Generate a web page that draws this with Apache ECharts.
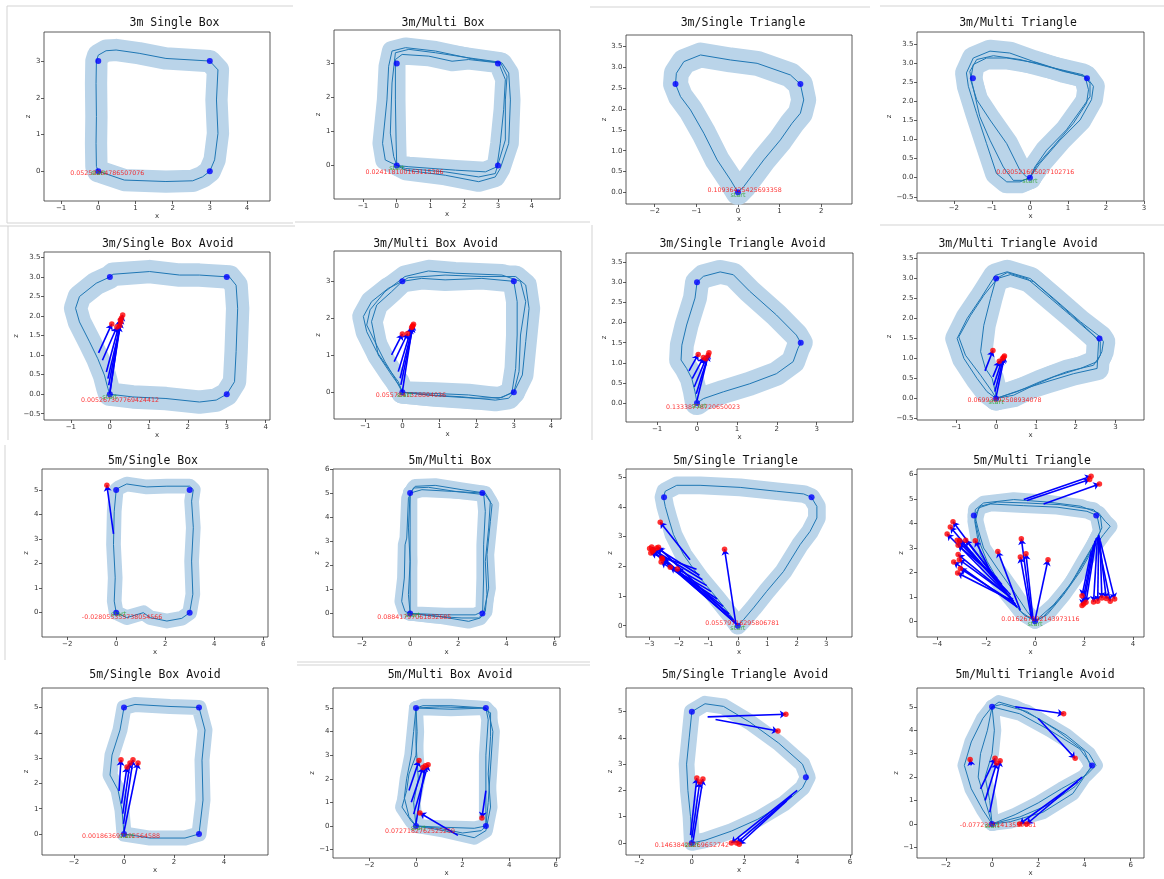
<!DOCTYPE html>
<html><head><meta charset="utf-8">
<script src="https://cdn.jsdelivr.net/npm/echarts@6/dist/echarts.min.js"></script>
<style>html,body{margin:0;padding:0;background:#fff}#c{width:1164px;height:879px}</style>
</head><body><div id="c"></div>
<script>
// ---------------- DATA ----------------
const titles = ['3m Single Box','3m/Multi Box','3m/Single Triangle','3m/Multi Triangle',
 '3m/Single Box Avoid','3m/Multi Box Avoid','3m/Single Triangle Avoid','3m/Multi Triangle Avoid',
 '5m/Single Box','5m/Multi Box','5m/Single Triangle','5m/Multi Triangle',
 '5m/Single Box Avoid','5m/Multi Box Avoid','5m/Single Triangle Avoid','5m/Multi Triangle Avoid'];

// axis extents [xmin,xmax,zmin,zmax]
const axisRanges = [
 [-1.46,4.62,-0.81,3.79],[-1.86,4.84,-0.99,3.99],[-2.69,2.74,-0.28,3.78],[-2.97,3.0,-0.61,3.81],
 [-1.69,4.11,-0.66,3.64],[-1.84,4.27,-0.72,3.82],[-1.78,3.91,-0.47,3.73],[-1.99,3.72,-0.54,3.64],
 [-3.03,6.2,-0.99,5.85],[-3.2,6.22,-0.98,6.0],[-3.79,3.87,-0.38,5.28],[-4.82,4.45,-0.64,6.23],
 [-3.28,5.76,-0.83,5.77],[-3.56,6.18,-1.36,5.85],[-2.5,6.08,-0.46,5.9],[-3.25,6.58,-1.45,5.8]];

const xTicks = [
 ['−1','0','1','2','3','4'],['−1','0','1','2','3','4'],['−2','−1','0','1','2'],['−2','−1','0','1','2','3'],
 ['−1','0','1','2','3','4'],['−1','0','1','2','3','4'],['−1','0','1','2','3'],['−1','0','1','2','3'],
 ['−2','0','2','4','6'],['−2','0','2','4','6'],['−3','−2','−1','0','1','2','3'],['−4','−2','0','2','4'],
 ['−2','0','2','4'],['−2','0','2','4','6'],['−2','0','2','4','6'],['−2','0','2','4','6']];
const zTicks = [
 ['0','1','2','3'],['0','1','2','3'],['0.0','0.5','1.0','1.5','2.0','2.5','3.0','3.5'],['−0.5','0.0','0.5','1.0','1.5','2.0','2.5','3.0','3.5'],
 ['−0.5','0.0','0.5','1.0','1.5','2.0','2.5','3.0','3.5'],['0','1','2','3'],['0.0','0.5','1.0','1.5','2.0','2.5','3.0','3.5'],['−0.5','0.0','0.5','1.0','1.5','2.0','2.5','3.0','3.5'],
 ['0','1','2','3','4','5'],['0','1','2','3','4','5','6'],['0','1','2','3','4','5'],['0','1','2','3','4','5','6'],
 ['0','1','2','3','4','5'],['−1','0','1','2','3','4','5'],['0','1','2','3','4','5'],['−1','0','1','2','3','4','5']];

// waypoints (blue dots)
const boxCorners3 = [[0,0],[3,0],[3,3],[0,3]];
const triCorners3 = [[0,0],[-1.5,2.6],[1.5,2.6]];
const triAvoidCorners3 = [[0,0],[0,3],[2.6,1.5]];
const boxCorners5 = [[0,0],[3,0],[3,5],[0,5]];
const triCorners5 = [[0,0],[-2.5,4.33],[2.5,4.33]];
const triAvoidCorners5 = [[0,0],[0,5],[4.33,2.5]];

// trajectories
const p1_paths = [[[0,0],[0.7,-0.24],[1.82,-0.28],[2.54,-0.26],[2.81,-0.15],[3,0],[3.13,0.31],[3.22,1.03],[3.18,1.94],[3.22,2.76],[3,3],[1.82,3.07],[1.1,3.21],[0.48,3.3],[0.21,3.28],[0,3.16],[-0.05,3],[-0.06,2.39],[-0.05,1.49],[-0.06,0.76],[-0.05,0.13],[0,0]]];
const p2_paths = [
 [[0,0],[0.26,-0.14],[1.44,-0.29],[2.43,-0.48],[2.92,-0.34],[3.07,-0.09],[3.32,0.65],[3.37,1.93],[3.32,2.72],[3.12,3.02],[2.33,3.12],[1.15,3.37],[0.26,3.47],[-0.14,3.37],[-0.24,2.92],[-0.29,1.93],[-0.42,0.65],[-0.34,0.16],[0,0]],
 [[0,0],[0.26,-0.09],[1.44,-0.19],[2.43,-0.34],[2.92,-0.24],[3.22,0.75],[3.22,1.93],[3.27,2.63],[3.07,3.04],[2.13,3.17],[1.15,3.32],[0.36,3.42],[-0.04,3.32],[-0.14,2.43],[-0.19,0.95],[-0.09,0.26],[0,0]],
 [[0,0],[0.36,-0.04],[1.74,-0.14],[2.63,-0.19],[2.97,-0.04],[3.07,0.65],[3.17,1.64],[3.22,2.53],[3.02,3.02],[2.13,3.12],[1.64,3.07],[0.95,3.22],[0.16,3.27],[-0.04,3.12],[-0.04,1.93],[-0.02,0.75],[0,0]]];
const p3_paths = [[[0,0],[-0.18,0.3],[-0.5,0.78],[-0.82,1.42],[-1.14,1.98],[-1.38,2.3],[-1.5,2.6],[-1.48,2.86],[-1.3,3.14],[-0.9,3.3],[-0.18,3.18],[0.46,3.1],[1.26,2.82],[1.5,2.6],[1.58,2.22],[1.5,1.9],[1.3,1.66],[1.02,1.26],[0.62,0.78],[0.38,0.46],[0.14,0.14],[0,0]]];
const p4_paths = [
 [[0,0],[-0.26,-0.11],[-0.61,-0.11],[-0.88,0.11],[-1.14,0.89],[-1.4,1.68],[-1.62,2.39],[-1.67,2.74],[-1.49,3.13],[-1.05,3.31],[-0.53,3.26],[0.09,3.04],[0.79,2.82],[1.49,2.63],[1.67,2.39],[1.62,2.04],[1.32,1.51],[0.79,0.98],[0.26,0.37],[0.04,0.06],[0,0]],
 [[0,0],[-0.18,-0.07],[-0.44,-0.07],[-0.7,0.28],[-1.05,0.98],[-1.32,1.6],[-1.54,2.56],[-1.58,2.78],[-1.4,3.09],[-0.96,3.19],[-0.26,3.09],[0.44,2.91],[1.4,2.69],[1.58,2.47],[1.58,2.12],[1.4,1.86],[0.96,1.25],[0.44,0.72],[0.13,0.28],[0,0]],
 [[0,0],[-0.09,0.02],[-0.26,0.19],[-0.61,0.89],[-1.05,1.51],[-1.4,2.04],[-1.56,2.56],[-1.49,2.96],[-1.14,3.13],[-0.61,3.13],[0.18,3.0],[0.88,2.78],[1.45,2.65],[1.54,2.3],[1.49,1.95],[1.14,1.42],[0.61,0.81],[0.18,0.32],[0,0]]];
const p5_paths = [[[0,0],[0.59,-0.07],[1.44,-0.11],[2.3,-0.2],[2.73,-0.15],[3,0],[3.2,0.32],[3.24,1.09],[3.28,2.2],[3.24,2.79],[3.07,3.0],[2.3,3.05],[1.79,3.05],[1.02,3.14],[0.08,3.07],[0,3],[-0.35,2.84],[-0.78,2.5],[-0.88,2.2],[-0.78,1.85],[-0.52,1.34],[-0.31,0.91],[-0.14,0.49],[-0.05,0.15],[0,0]]];
const p6_paths = [
 [[0,0],[0.7,-0.07],[1.6,-0.12],[2.5,-0.21],[2.86,-0.16],[3,0],[3.23,0.47],[3.32,1.37],[3.41,2.27],[3.32,2.9],[3.05,3.13],[2.14,3.13],[1.15,3.17],[0.16,3.1],[0,3],[-0.38,2.81],[-0.83,2.45],[-1.05,2.05],[-0.96,1.64],[-0.69,1.1],[-0.38,0.65],[-0.11,0.29],[0,0]],
 [[0,0],[0.88,-0.03],[1.78,-0.07],[2.59,-0.16],[3,0],[3.14,0.56],[3.18,1.55],[3.32,2.45],[3.18,3.0],[2.68,3.17],[1.42,3.22],[0.7,3.28],[0.07,3.13],[-0.47,2.72],[-0.87,2.23],[-0.96,1.82],[-0.74,1.37],[-0.47,0.83],[-0.2,0.38],[0,0]],
 [[0,0],[0.88,-0.09],[1.96,-0.16],[2.68,-0.14],[2.95,0.0],[3.05,0.65],[3.09,1.55],[3.09,2.45],[3,3],[2.14,3.08],[1.15,3.04],[0.52,3.08],[0,3],[-0.29,2.72],[-0.69,2.36],[-0.83,1.91],[-0.65,1.01],[-0.29,0.47],[-0.06,0.15],[0,0]]];
const p7_paths = [[[0,0],[0.16,0.11],[0.66,0.28],[1.32,0.48],[1.99,0.73],[2.41,1.03],[2.53,1.36],[2.6,1.5],[2.49,1.69],[1.99,2.19],[1.32,2.78],[0.91,3.19],[0.58,3.26],[0.16,3.15],[0,3],[-0.05,2.61],[-0.26,1.94],[-0.38,1.44],[-0.4,1.07],[-0.26,0.86],[-0.13,0.61],[-0.05,0.28],[0,0]]];
const p8_paths = [
 [[0,0],[0.44,0.08],[0.95,0.33],[1.45,0.54],[2.12,0.75],[2.54,0.92],[2.66,1.17],[2.7,1.42],[2.62,1.54],[2.12,1.92],[1.45,2.5],[0.86,3.0],[0.28,3.17],[-0.02,3.08],[-0.39,2.5],[-0.73,2.0],[-0.98,1.5],[-0.81,1.0],[-0.48,0.5],[-0.23,0.17],[0,0]],
 [[0,0],[0.53,0.17],[1.11,0.42],[1.78,0.67],[2.45,0.83],[2.62,1.08],[2.62,1.42],[2.28,1.75],[1.62,2.33],[0.95,2.92],[0.36,3.1],[0.03,3.0],[-0.31,2.58],[-0.64,2.08],[-0.94,1.54],[-0.77,1.08],[-0.39,0.58],[-0.1,0.17],[0,0]],
 [[0,0],[0.61,0.21],[1.28,0.42],[1.95,0.62],[2.54,0.75],[2.58,1.46],[2.45,1.58],[1.87,2.08],[1.28,2.58],[0.78,3.0],[0.28,3.15],[0,3],[-0.14,2.5],[-0.31,1.83],[-0.39,1.17],[-0.27,0.75],[-0.1,0.5],[-0.02,0.17],[0,0]]];
const p9_paths = [[[0,0],[0.43,-0.2],[1.11,0],[1.39,-0.2],[2.07,-0.34],[2.68,-0.23],[3,0],[3.13,0.75],[3.08,2.1],[3.15,3.46],[3.08,4.54],[3.15,5.01],[3,5.15],[2.07,5.15],[1.25,5.12],[0.43,5.24],[0.1,5.08],[0,5],[-0.08,4.13],[-0.11,2.78],[-0.04,1.42],[-0.08,0.47],[0,0]]];
const p10_paths = [
 [[0,0],[1.04,-0.12],[2.15,-0.19],[2.84,-0.19],[3.12,0.08],[3.19,0.78],[3.12,2.16],[3.26,3.55],[3.33,4.65],[3.12,5.0],[2.15,5.14],[1.04,5.32],[0.21,5.28],[0,5],[-0.07,3.55],[0,2.16],[-0.07,0.78],[0,0]],
 [[0,0],[1.18,-0.12],[2.43,-0.33],[2.91,-0.19],[3.05,0],[3.26,1.05],[3.19,2.44],[3.33,3.82],[3.4,4.52],[3.12,4.93],[1.87,5.07],[0.76,5.24],[0.14,5.21],[-0.07,4.79],[-0.14,3.13],[-0.21,2.85],[-0.24,1.47],[-0.35,0.5],[-0.21,0.08],[0,0]],
 [[0,0],[1.46,-0.06],[2.7,-0.06],[3.01,0.08],[3.05,1.47],[3.05,2.85],[3.12,4.24],[3.05,5.0],[1.73,5.07],[0.49,5.14],[0,5],[0,3.55],[0,1.47],[0,0]]];
const p11_paths = [[[0,0],[-0.26,0.37],[-0.71,0.93],[-1.28,1.61],[-1.84,2.39],[-2.18,3.07],[-2.35,3.63],[-2.46,4.02],[-2.52,4.33],[-2.46,4.53],[-2.07,4.73],[-1.28,4.73],[0.08,4.66],[1.32,4.53],[2.23,4.44],[2.49,4.33],[2.68,4.02],[2.68,3.63],[2.45,3.18],[2.11,2.73],[1.55,1.83],[0.98,1.16],[0.53,0.6],[0.19,0.2],[0,0]]];
const p12_paths = [
 [[0,0],[-0.46,0.27],[-1.14,1.09],[-1.82,2.05],[-2.23,2.73],[-2.37,3.55],[-2.46,4.09],[-2.44,4.57],[-2.1,4.84],[-0.87,4.98],[0.49,4.88],[1.85,4.71],[2.6,4.43],[2.87,4.09],[3.07,3.89],[2.8,3.55],[2.39,3.0],[1.85,2.05],[1.17,1.09],[0.49,0.27],[0,0]],
 [[0,0],[-0.33,0.41],[-0.87,1.23],[-1.55,2.18],[-2.1,3.0],[-2.3,3.68],[-2.46,4.33],[-2.23,4.71],[-1.55,4.88],[-0.33,4.84],[1.03,4.77],[2.39,4.57],[2.67,4.3],[2.73,3.82],[2.39,3.14],[1.99,2.46],[1.44,1.5],[0.76,0.68],[0.22,0.2],[0,0]],
 [[0,0],[-0.6,0.41],[-1.41,1.5],[-1.96,2.46],[-2.23,3.14],[-2.44,4.09],[-2.3,4.64],[-1.82,4.8],[-0.46,4.73],[0.9,4.67],[2.12,4.5],[2.53,4.33],[2.67,3.68],[2.26,2.86],[1.71,1.91],[1.03,0.95],[0.35,0.2],[0,0]]];
const p13_paths = [[[0,0],[1.04,-0.16],[2.44,-0.16],[3,0],[3.16,1.34],[3.12,2.92],[3.24,4.11],[3,5],[1.84,5.04],[0.44,5.12],[0,5],[-0.16,4.11],[-0.48,3.12],[-0.56,2.33],[-0.24,1.74],[-0.08,0.95],[0,0]]];
const p14_paths = [
 [[0,0],[1,-0.1],[2,-0.3],[2.8,-0.2],[3,0],[3.1,1],[3.2,2.5],[3.3,4],[3.1,4.9],[3,5],[1.5,5.1],[0.3,5.1],[0,5],[-0.1,4],[-0.2,3],[-0.4,2],[-0.5,1.2],[-0.3,0.4],[0,0]],
 [[0,0],[1.2,-0.2],[2.5,-0.5],[3,-0.2],[3.2,0.8],[3.1,2.2],[3.2,3.8],[3.2,4.8],[2.8,5.0],[1,5.05],[0,5],[0.05,4],[0,3],[-0.3,2.2],[-0.4,1.5],[-0.6,0.8],[-0.2,0.2],[0,0]],
 [[0,0],[1,-0.05],[2.5,-0.1],[3,0],[3,1.5],[3,3],[3.1,4.5],[3,5],[1.5,4.95],[0,5],[0,3.5],[0.1,2],[-0.1,1],[0,0]]];
const p15_paths = [[[0,0],[0.5,0.1],[1.5,0.45],[2.5,0.9],[3.5,1.5],[4.2,2.1],[4.4,2.5],[4.2,3.0],[3.3,3.8],[2.2,4.6],[1.2,5.2],[0.5,5.3],[0,5],[-0.1,4],[-0.2,3],[-0.15,2],[-0.05,1],[0,0]]];
const p16_paths = [
 [[0,0],[1,0.4],[2,0.9],[3,1.5],[4.1,2.1],[4.5,2.5],[4.2,3.0],[3.2,3.8],[2,4.5],[1,5.0],[0.3,5.2],[0,5],[-0.4,4.5],[-0.9,3.5],[-1.2,2.5],[-0.9,1.5],[-0.4,0.6],[0,0]],
 [[0,0],[1.2,0.3],[2.4,0.8],[3.6,1.6],[4.3,2.4],[4.0,3.1],[2.8,4.0],[1.5,4.8],[0.4,5.1],[0,5],[-0.2,4],[-0.5,3],[-0.6,2],[-0.3,1],[0,0]],
 [[0,0],[0.8,0.1],[2.2,0.5],[3.5,1.3],[4.33,2.5],[3.8,3.2],[2.5,4.0],[1.2,4.7],[0,5],[0.1,4],[0,3],[-0.3,2],[-0.1,1],[0,0]]];

// avoidance arrows [x0,z0,x1,z1] (red dot at x1,z1)
const p5_arrows = [[-0.29,1.06,0.05,1.8],[-0.19,0.87,0.18,1.72],[-0.09,0.57,0.27,1.9],[-0.05,0.4,0.33,2.03],[-0.03,0.23,0.3,1.95],[0,0.06,0.28,1.85],[0,0.02,0.25,1.75]];
const p6_arrows = [[-0.29,1.01,0,1.58],[-0.22,0.83,0.14,1.59],[-0.11,0.56,0.25,1.75],[-0.06,0.38,0.28,1.8],[-0.04,0.2,0.3,1.84],[0,0.02,0.27,1.78]];
const p7_arrows = [[-0.2,0.8,0.03,1.21],[-0.12,0.61,0.16,1.13],[-0.07,0.4,0.22,1.1],[-0.02,0.23,0.3,1.25],[0,0.07,0.28,1.19]];
const p8_arrows = [[-0.28,0.69,-0.08,1.2],[-0.08,0.54,0.08,0.93],[-0.06,0.33,0.16,1.0],[-0.03,0.17,0.19,1.03],[0,0.04,0.21,1.06]];
const p9_arrows = [[-0.11,3.21,-0.38,5.19]];
const p11_arrows = [[-0.05,0.05,-2.92,2.65],[-0.08,0.1,-2.99,2.6],[-0.15,0.2,-2.69,2.64],[-0.3,0.4,-2.89,2.51],[-0.5,0.65,-2.58,2.28],[-0.7,0.9,-2.6,2.15],[-0.9,1.15,-2.29,1.97],[-1.05,1.35,-2.05,1.91],[-1.2,1.55,-2.85,2.55],[-1.3,1.7,-2.75,2.62],[-1.4,1.9,-2.95,2.45],[-1.62,2.22,-2.63,3.49],[-0.03,0.05,-2.55,2.25],[-0.07,0.09,-0.45,2.58]];
const p12_arrows = [[-0.73,0.57,-3.35,4.07],[-0.8,0.7,-3.46,3.86],[-0.87,0.82,-3.59,3.57],[-1.0,1.09,-3.18,3.32],[-1.14,1.23,-3.07,3.3],[-1.35,1.5,-2.83,3.32],[-1.82,2.05,-2.44,3.3],[-1.55,1.77,-3.14,3.11],[-0.6,0.45,-1.52,2.86],[-0.9,0.9,-3.14,2.73],[-1.0,1.0,-3.09,2.52],[-0.75,0.6,-3.32,2.43],[-0.85,0.75,-3.05,2.16],[-0.95,0.85,-3.16,1.98],
 [-0.12,0.1,-0.56,3.38],[-0.15,0.14,-0.6,2.63],[-0.08,0.08,-0.37,2.76],[0,0.05,0.53,2.52],
 [-0.46,4.98,2.29,5.93],[-0.33,4.94,2.23,5.8],[0.35,4.8,2.63,5.62],
 [2.39,3.14,1.92,0.65],[2.45,3.3,1.99,0.71],[2.5,3.4,2.08,0.78],[2.55,3.45,2.39,0.79],[2.6,3.5,2.56,0.82],[2.65,3.4,2.73,0.95],[2.6,3.55,2.91,0.93],[2.55,3.35,3.07,0.82],[2.67,3.27,3.25,0.91],[2.3,2.9,1.92,1.05]];
const p13_arrows = [[-0.2,1.7,-0.12,2.93],[-0.1,1.2,0.12,2.65],[-0.05,0.8,0.24,2.81],[-0.02,0.4,0.36,2.93],[0,0.1,0.56,2.81]];
const p14_arrows = [[-0.3,1.5,0.13,2.77],[-0.2,1.0,0.3,2.48],[-0.1,0.5,0.52,2.6],[0,0.1,0.4,2.55],[3.0,1.5,2.83,0.34],[1.8,-0.4,0.17,0.55]];
const p15_arrows = [[0.6,4.8,3.57,4.9],[0.9,4.7,3.27,4.26],[-0.05,0.3,0.19,2.47],[0,0.2,0.3,2.32],[0.05,0.1,0.42,2.43],[4.0,2.0,1.5,0.0],[3.8,1.8,1.7,0.0],[3.6,1.6,1.8,-0.05]];
const p16_arrows = [[-0.5,1.5,0.13,2.8],[-0.3,1.0,0.2,2.6],[-0.1,0.5,0.35,2.7],[-0.9,2.5,-0.95,2.75],[1.0,5.0,3.1,4.7],[3.9,2.0,1.5,0.0],[3.7,1.8,1.2,0.0],[2.0,4.5,3.6,2.8]];

// result values printed in red, with their positions, and 'start' label positions
const resultText = ['0.05259264786507076','0.024118100163115386','0.10936425425693358','0.030521605027102716',
 '0.005267307769424412','0.0557841328804036','0.13338778720650023','0.06993892508934078',
 '-0.028055355738054566','0.08841797061832685','0.05579716295806781','0.016267892143973116',
 '0.001863697192564588','0.0727182762525259','0.14638428269652742','-0.07723261413559061'];
const resultPos = [[0.24,-0.05],[0.23,-0.21],[0.16,0.04],[0.14,0.14],[0.26,-0.17],[0.23,-0.09],[0.15,-0.1],[0.21,-0.04],
 [0.24,-0.2],[0.17,-0.17],[0.15,0.09],[0.22,0.07],[-0.12,-0.08],[0.17,-0.25],[0.0,-0.08],[0.26,-0.05]];
const startPos = [[0.0,-0.06],[0.0,-0.08],[0.0,-0.08],[0.0,-0.1],[0.0,-0.07],[0.05,-0.07],[0.05,-0.07],[0.0,-0.09],
 [0.1,-0.08],[0.1,-0.08],[0.0,-0.1],[0.0,-0.12],[0.1,-0.08],[0.1,-0.08],[0.0,-0.1],[0.0,-0.1]];

const allPaths = [p1_paths,p2_paths,p3_paths,p4_paths,p5_paths,p6_paths,p7_paths,p8_paths,p9_paths,p10_paths,p11_paths,p12_paths,p13_paths,p14_paths,p15_paths,p16_paths];
const allCorners = [boxCorners3,boxCorners3,triCorners3,triCorners3,boxCorners3,boxCorners3,triAvoidCorners3,triAvoidCorners3,boxCorners5,boxCorners5,triCorners5,triCorners5,boxCorners5,boxCorners5,triAvoidCorners5,triAvoidCorners5];
const allArrows = [[],[],[],[],p5_arrows,p6_arrows,p7_arrows,p8_arrows,p9_arrows,[],p11_arrows,p12_arrows,p13_arrows,p14_arrows,p15_arrows,p16_arrows];

// ---------------- LAYOUT ----------------
const gridRects = [
 [44,32,226,169],[334,30,226,169],[626,35,226,169],[917,32,227,169],
 [44,252,226,168],[334,251,227,168],[626,253,227,169],[917,253,227,167],
 [42,469,226,168],[333,469,227,168],[626,469,226,168],[917,469,227,168],
 [42,688,226,167],[333,688,227,170],[626,688,226,167],[917,688,227,170]];
const titleCenters = [[169.5,20],[438,20],[738,20],[1013,20],[162.7,241],[430.5,241],[737.5,241],[1013,241],
 [148,458],[445,458],[730.5,458],[1027,458],[150,672],[445,672],[740,672],[1030,672]];

const BAND = '#bad4e9', LINE = '#1f77b4';
const num = s => parseFloat(s.replace('−','-'));
const textW = s => { let w=0; for(const c of s){ w += c==='.'?2.2:(c==='−'?5.9:4.45);} return w; };
const option = {animation:false, backgroundColor:'#ffffff', title:[], grid:[], xAxis:[], yAxis:[], series:[], graphic:[]};

function axisCfg(i, r0, r1, labels, name, isX){
  const vals = labels.map(num);
  const gap = isX ? 12 : Math.max(...labels.map(textW)) + 4.5;
  return {type:'value', gridIndex:i, min:r0, max:r1,
    axisLine:{show:false, onZero:false}, splitLine:{show:false},
    axisTick:{show:true, length:3, customValues:vals, lineStyle:{color:'#333', width:0.8}},
    axisLabel:{customValues:vals, fontSize:7, color:'#333', margin:3.5, fontFamily:'DejaVu Sans',
      formatter:v=>{const k=vals.findIndex(t=>Math.abs(t-v)<1e-6);return k>=0?labels[k]:'';}},
    name:name, nameLocation:'middle', nameGap:gap, nameTextStyle:{fontSize:7, color:'#333', fontFamily:'DejaVu Sans'}};
}

for(let i=0;i<16;i++){
  const [L,T,W,H] = gridRects[i];
  const [x0,x1,y0,y1] = axisRanges[i];
  const ppu = W/(x1-x0);
  option.title.push({text:titles[i], left:titleCenters[i][0], top:titleCenters[i][1]-8, textAlign:'center',
    textStyle:{fontFamily:'DejaVu Sans Mono', fontSize:11.5, fontWeight:'normal', color:'#111'}});
  option.grid.push({left:L, top:T, width:W, height:H, show:true, borderColor:'#333', borderWidth:0.8, backgroundColor:'transparent'});
  option.xAxis.push(axisCfg(i,x0,x1,xTicks[i],'x',true));
  option.yAxis.push(axisCfg(i,y0,y1,zTicks[i],'z',false));
  const base = {xAxisIndex:i, yAxisIndex:i, silent:true, animation:false};
  allPaths[i].forEach(p=>option.series.push(Object.assign({type:'line', data:p, showSymbol:false, symbol:'none', z:1,
    lineStyle:{color:BAND, width:0.6*ppu, cap:'round', join:'round'}}, base)));
  allPaths[i].forEach(p=>option.series.push(Object.assign({type:'line', data:p, showSymbol:false, symbol:'none', z:2,
    lineStyle:{color:LINE, width:1}}, base)));
  option.series.push(Object.assign({type:'scatter', data:allCorners[i], symbolSize:6, itemStyle:{color:'#0000ff'}, z:3}, base));
  const arr = allArrows[i];
  if(arr.length){
    option.series.push(Object.assign({type:'lines', coordinateSystem:'cartesian2d', z:4,
      data:arr.map(a=>({coords:[[a[0],a[1]],[a[2],a[3]]]})), symbol:['none','arrow'], symbolSize:6,
      lineStyle:{color:'#0000ff', width:1.6, opacity:1, curveness:0}}, base));
    option.series.push(Object.assign({type:'scatter', data:arr.map(a=>[a[2],a[3]]), symbolSize:5.5, itemStyle:{color:'#ff0000'}, z:5}, base));
  }
  option.series.push(Object.assign({type:'scatter', data:[startPos[i]], symbolSize:1, itemStyle:{color:'rgba(0,0,0,0)'}, z:8,
    labelLayout:{hideOverlap:false},
    label:{show:true, position:'inside', formatter:'start', color:'#2ca02c', fontSize:6.5, fontFamily:'DejaVu Sans'}}, base));
  option.series.push(Object.assign({type:'scatter', data:[resultPos[i]], symbolSize:1, itemStyle:{color:'rgba(0,0,0,0)'}, z:7,
    labelLayout:{hideOverlap:false},
    label:{show:true, position:'inside', formatter:resultText[i], color:'#ff0000', fontSize:6.3, fontFamily:'DejaVu Sans'}}, base));
}
// screenshot separator lines
const sep = [[7,6,293,6],[7,6,7,223],[7,223,293,223],[295,222,590,222],[590,7,870,7],[880,6,1164,6],
 [8,226,8,440],[0,226,295,226],[592,225,592,440],[880,225,1164,225],[5,445,5,660],[297,662,590,662],[297,665,590,665]];
sep.forEach(s=>option.graphic.push({type:'line', shape:{x1:s[0],y1:s[1],x2:s[2],y2:s[3]}, style:{stroke:'#d3d3d3', lineWidth:1}, silent:true}));

const chart = echarts.init(document.getElementById('c'), null, {renderer:'canvas'});
chart.setOption(option);
</script></body></html>
